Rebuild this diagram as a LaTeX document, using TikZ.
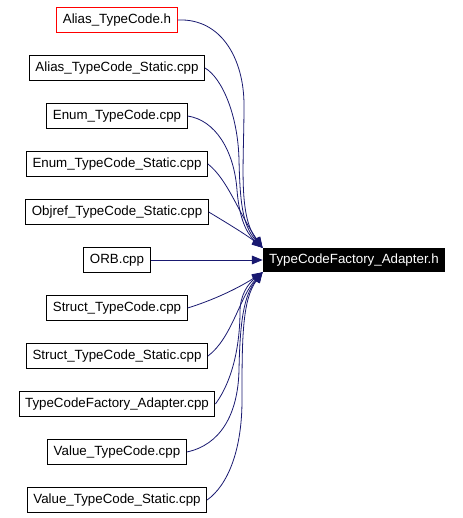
\documentclass[tikz,border=0pt]{standalone}
\usepackage{fontspec}
\setmainfont{Liberation Sans}
\usetikzlibrary{arrows.meta}
\definecolor{edgeblue}{HTML}{191970}

\begin{document}
\begin{tikzpicture}
			[x=0.75pt,y=-0.75pt,
			file/.style={draw=black,line width=0.75pt,fill=white,font=\fontsize{10}{12}\selectfont,
				inner xsep=4.5pt,inner ysep=0pt,minimum height=18.5pt},
			header/.style={file,draw=red},
			root/.style={file,fill=black,text=white,minimum height=17.5pt},
			dep/.style={draw=edgeblue,line width=0.6pt,-{Triangle[length=8pt,width=6.5pt]},
				fill=none}]
			\useasboundingbox (0,0) rectangle (462,518);
			% the header that everything points at
			\node[root] (adapterh) at (354,260) {TypeCodeFactory\_Adapter.h};
			% files that include it
			\node[header] (aliash) at (117,20) {Alias\_TypeCode.h};
			\node[file] (aliasstatic) at (117,68) {Alias\_TypeCode\_Static.cpp};
			\node[file] (enumcpp) at (117,116) {Enum\_TypeCode.cpp};
			\node[file] (enumstatic) at (117,164) {Enum\_TypeCode\_Static.cpp};
			\node[file] (objrefstatic) at (117,212) {Objref\_TypeCode\_Static.cpp};
			\node[file] (orbcpp) at (117,260) {ORB.cpp};
			\node[file] (structcpp) at (117,308) {Struct\_TypeCode.cpp};
			\node[file] (structstatic) at (117,356) {Struct\_TypeCode\_Static.cpp};
			\node[file] (adaptercpp) at (117,404) {TypeCodeFactory\_Adapter.cpp};
			\node[file] (valuecpp) at (117,452) {Value\_TypeCode.cpp};
			\node[file] (valuestatic) at (117,500) {Value\_TypeCode\_Static.cpp};
			% edges
			\draw[dep] (aliash.east) .. controls (222,18) and (244,60) .. (244,105)
				.. controls (244,165) and (238,215) .. (adapterh.north west);
			\draw[dep] (aliasstatic.east) .. controls (222,78) and (238,115) .. (239,160)
				.. controls (240,200) and (242,225) .. (adapterh.north west);
			\draw[dep] (enumcpp.east) .. controls (215,120) and (234,150) .. (237,190)
				.. controls (239,215) and (245,232) .. (adapterh.north west);
			\draw[dep] (enumstatic.east) .. controls (228,180) and (238,212) .. (adapterh.north west);
			\draw[dep] (objrefstatic.east) .. controls (232,226) and (248,236) .. (adapterh.north west);
			\draw[dep] (orbcpp.east) -- (adapterh.west);
			\draw[dep] (structcpp.east) .. controls (220,298) and (245,284) .. (adapterh.south west);
			\draw[dep] (structstatic.east) .. controls (232,338) and (240,296) .. (adapterh.south west);
			\draw[dep] (adaptercpp.east) .. controls (236,376) and (240,335) .. (240,312)
				.. controls (240,295) and (248,284) .. (adapterh.south west);
			\draw[dep] (valuecpp.east) .. controls (220,445) and (238,415) .. (239,370)
				.. controls (240,320) and (244,295) .. (adapterh.south west);
			\draw[dep] (valuestatic.east) .. controls (228,485) and (242,450) .. (242,400)
				.. controls (242,340) and (242,300) .. (adapterh.south west);
\end{tikzpicture}
\end{document}
